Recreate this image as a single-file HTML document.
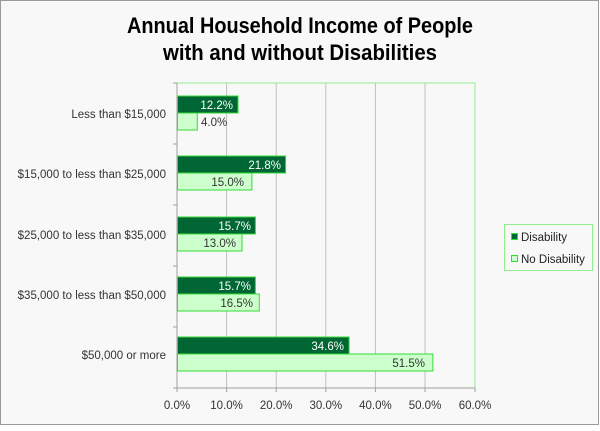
<!DOCTYPE html>
<html><head><meta charset="utf-8"><style>
body{margin:0;background:#fff}
</style></head><body>
<svg width="600" height="426" xmlns="http://www.w3.org/2000/svg" font-family="Liberation Sans, sans-serif">
<rect x="0.5" y="0.5" width="598" height="424" fill="#f8f8f8" stroke="#9a9a9a"/>
<text x="127" y="33" font-size="22" font-weight="bold" fill="#000" textLength="346" lengthAdjust="spacingAndGlyphs">Annual Household Income of People</text>
<text x="163" y="60" font-size="22" font-weight="bold" fill="#000" textLength="274" lengthAdjust="spacingAndGlyphs">with and without Disabilities</text>
<g stroke="#c0c0c0" stroke-width="1">
<line x1="226.6" y1="83" x2="226.6" y2="388"/>
<line x1="276.2" y1="83" x2="276.2" y2="388"/>
<line x1="325.8" y1="83" x2="325.8" y2="388"/>
<line x1="375.4" y1="83" x2="375.4" y2="388"/>
<line x1="425" y1="83" x2="425" y2="388"/>
</g>
<line x1="177" y1="83" x2="475" y2="83" stroke="#90ee90"/>
<line x1="475" y1="83" x2="475" y2="388" stroke="#90ee90"/>
<g stroke="#a0a0a0">
<line x1="177" y1="83" x2="177" y2="388"/>
<line x1="177" y1="388" x2="475" y2="388"/>
<line x1="173" y1="83" x2="177" y2="83"/><line x1="173" y1="144" x2="177" y2="144"/><line x1="173" y1="205" x2="177" y2="205"/><line x1="173" y1="266" x2="177" y2="266"/><line x1="173" y1="327" x2="177" y2="327"/><line x1="173" y1="388" x2="177" y2="388"/>
<line x1="177" y1="388" x2="177" y2="392"/><line x1="226.6" y1="388" x2="226.6" y2="392"/><line x1="276.2" y1="388" x2="276.2" y2="392"/><line x1="325.8" y1="388" x2="325.8" y2="392"/><line x1="375.4" y1="388" x2="375.4" y2="392"/><line x1="425" y1="388" x2="425" y2="392"/><line x1="475" y1="388" x2="475" y2="392"/>
</g>
<g stroke="#33dd33" stroke-width="1">
<rect x="177.5" y="96" width="60.5" height="17" fill="#006633"/>
<rect x="177.5" y="113" width="19.8" height="17" fill="#ccffcc"/>
<rect x="177.5" y="156" width="108.1" height="17" fill="#006633"/>
<rect x="177.5" y="173" width="74.4" height="17" fill="#ccffcc"/>
<rect x="177.5" y="217" width="77.9" height="17" fill="#006633"/>
<rect x="177.5" y="234" width="64.5" height="17" fill="#ccffcc"/>
<rect x="177.5" y="277" width="77.9" height="17" fill="#006633"/>
<rect x="177.5" y="294" width="81.8" height="17" fill="#ccffcc"/>
<rect x="177.5" y="337" width="171.6" height="17" fill="#006633"/>
<rect x="177.5" y="354" width="255.4" height="17" fill="#ccffcc"/>
</g>
<g font-size="11.5" fill="#fff" text-anchor="end">
<text x="233" y="109">12.2%</text>
<text x="281" y="169">21.8%</text>
<text x="251" y="230">15.7%</text>
<text x="251" y="290">15.7%</text>
<text x="344" y="350">34.6%</text>
</g>
<g font-size="11.5" fill="#333">
<text x="201" y="126">4.0%</text>
<text x="244" y="186" text-anchor="end">15.0%</text>
<text x="236" y="247" text-anchor="end">13.0%</text>
<text x="253" y="307" text-anchor="end">16.5%</text>
<text x="425" y="367" text-anchor="end">51.5%</text>
</g>
<g font-size="11.5" fill="#333" text-anchor="end">
<text x="166" y="118">Less than $15,000</text>
<text x="166" y="178">$15,000 to less than $25,000</text>
<text x="166" y="239">$25,000 to less than $35,000</text>
<text x="166" y="299">$35,000 to less than $50,000</text>
<text x="166" y="359">$50,000 or more</text>
</g>
<g font-size="11.5" fill="#333" text-anchor="middle">
<text x="177" y="409">0.0%</text><text x="226.6" y="409">10.0%</text><text x="276.2" y="409">20.0%</text><text x="325.8" y="409">30.0%</text><text x="375.4" y="409">40.0%</text><text x="425" y="409">50.0%</text><text x="475" y="409">60.0%</text>
</g>
<rect x="504.5" y="224.5" width="88" height="46" fill="#f8f8f8" stroke="#90ee90"/>
<rect x="511.5" y="233.5" width="6" height="6" fill="#006633" stroke="#33dd33"/>
<rect x="511.5" y="255.5" width="6" height="6" fill="#ccffcc" stroke="#33dd33"/>
<g font-size="11.5" fill="#222"><text x="521" y="241">Disability</text><text x="521" y="263">No Disability</text></g>
</svg>
</body></html>
